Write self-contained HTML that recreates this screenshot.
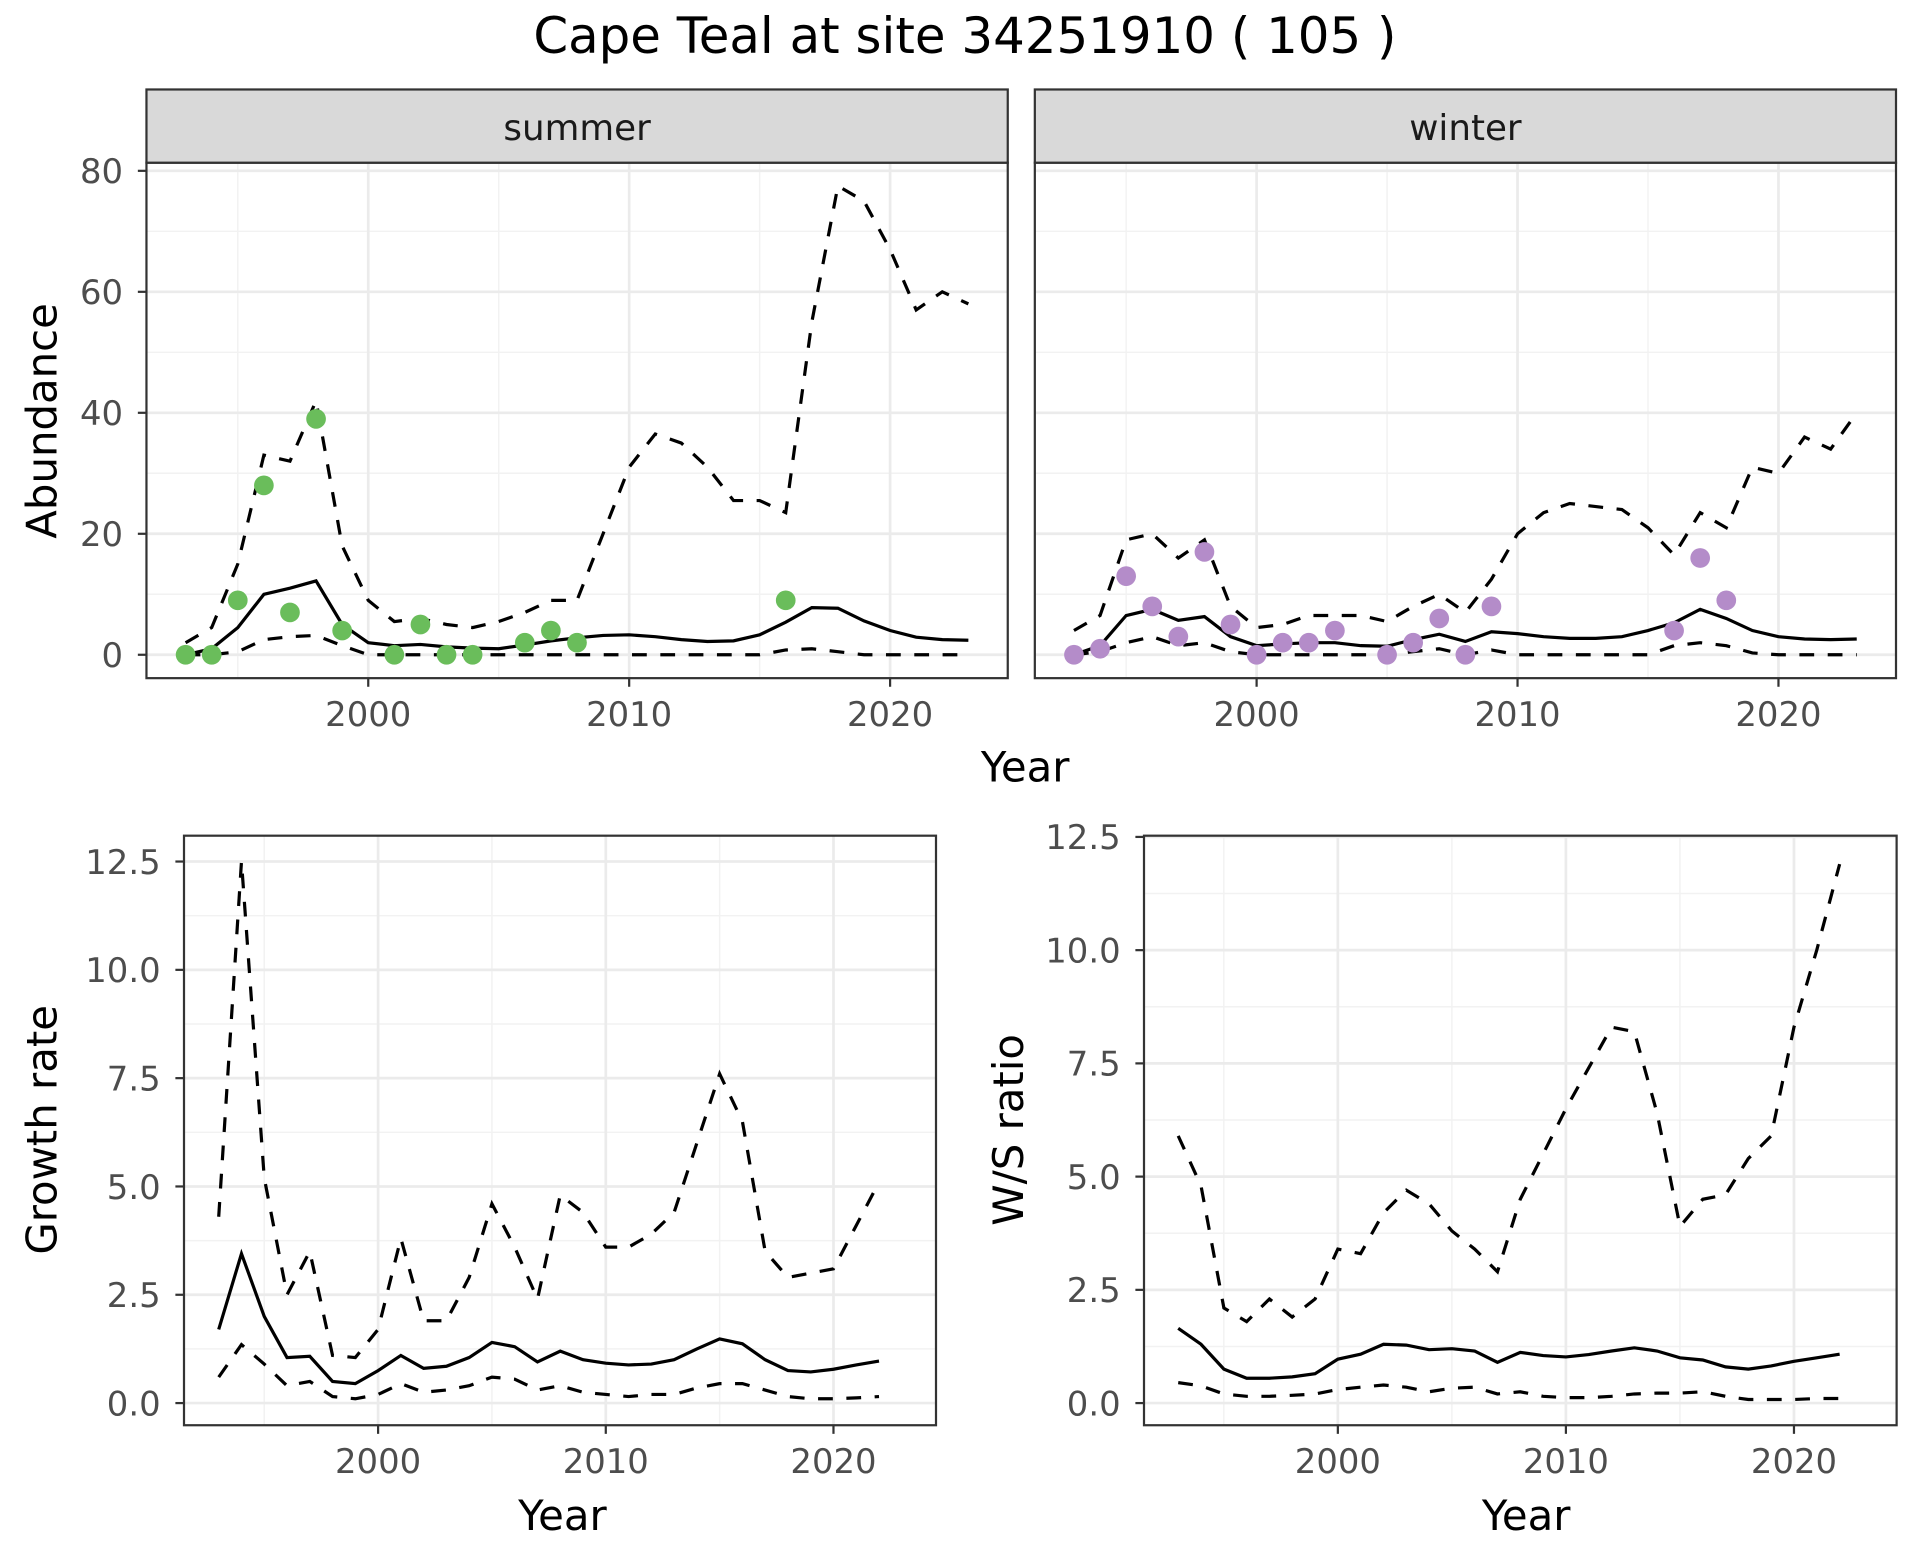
<!DOCTYPE html>
<html><head><meta charset="utf-8"><style>
html,body{margin:0;padding:0;background:#fff}
svg{display:block}
text{font-family:"DejaVu Sans","Liberation Sans",sans-serif}
</style></head><body>
<svg id="chart" width="1920" height="1560" viewBox="0 0 1560 1267.5" xmlns="http://www.w3.org/2000/svg">
<text x="784" y="43" font-size="40.5" text-anchor="middle" fill="#000">Cape Teal at site 34251910 ( 105 )</text>
</svg>
<script>
const yearsA = [];for(let y=1993;y<=2023;y++)yearsA.push(y);
const yearsB = [];for(let y=1993;y<=2022;y++)yearsB.push(y);
const summerMean=[0,1,4.5,10,11,12.2,5,2,1.5,1.7,1.3,1.1,1,1.6,2.3,2.8,3.2,3.3,3,2.5,2.2,2.3,3.3,5.4,7.8,7.7,5.6,4,2.9,2.5,2.4];
const summerUpper=[2,4.5,15,33,32,42,18,9,5.5,6,5,4.5,5.5,7,9,9,20,31,36.5,35,31,25.5,25.5,23.5,55,77.5,75,67,57,60,58];
const summerLower=[0,0,0.5,2.5,3,3.2,1.5,0,0,0,0,0,0,0,0,0,0,0,0,0,0,0,0,0.8,1,0.5,0,0,0,0,0];
const summerPtYears=[1993,1994,1995,1996,1997,1998,1999,2001,2002,2003,2004,2006,2007,2008,2016];
const summerPtVals=[0,0,9,28,7,39,4,0,5,0,0,2,4,2,9];
const winterMean=[0,1.5,6.5,7.5,5.7,6.3,3,1.5,1.8,2,2,1.5,1.4,2.5,3.4,2.2,3.8,3.5,3,2.7,2.7,3,4,5.3,7.5,6,4,3,2.6,2.5,2.6];
const winterUpper=[4,6.5,19,20,16,19,8,4.5,5,6.5,6.5,6.5,5.5,8,10,7,12.5,20,23.5,25,24.5,24,21,16.5,23.5,21,31,30,36,34,40];
const winterLower=[0,0.5,2,3,1.5,2,0.5,0,0,0,0,0,0,0.5,1,0,0.8,0,0,0,0,0,0,1.5,2,1.5,0.3,0,0,0,0];
const winterPtYears=[1993,1994,1995,1996,1997,1998,1999,2000,2001,2002,2003,2005,2006,2007,2008,2009,2016,2017,2018];
const winterPtVals=[0,1,13,8,3,17,5,0,2,2,4,0,2,6,0,8,4,16,9];
const growthMean=[1.7,3.45,2.0,1.05,1.08,0.5,0.45,0.75,1.1,0.8,0.85,1.05,1.4,1.3,0.95,1.2,1.0,0.92,0.88,0.9,1.0,1.25,1.48,1.37,1.0,0.75,0.72,0.78,0.88,0.97];
const growthUpper=[4.3,12.5,5.2,2.5,3.5,1.1,1.05,1.7,3.8,1.9,1.9,2.9,4.6,3.6,2.4,4.8,4.4,3.6,3.6,3.9,4.4,6.0,7.6,6.5,3.5,2.9,3.0,3.1,4.1,5.1];
const growthLower=[0.6,1.35,0.9,0.4,0.5,0.15,0.1,0.2,0.45,0.25,0.3,0.4,0.6,0.55,0.3,0.4,0.25,0.2,0.15,0.2,0.2,0.35,0.45,0.45,0.3,0.15,0.1,0.1,0.12,0.15];
const ratioMean=[1.65,1.3,0.75,0.55,0.55,0.58,0.65,0.97,1.08,1.3,1.28,1.18,1.2,1.15,0.9,1.12,1.05,1.02,1.07,1.15,1.22,1.15,1.0,0.95,0.8,0.75,0.82,0.92,1.0,1.08];
const ratioUpper=[5.9,4.8,2.1,1.8,2.3,1.9,2.3,3.4,3.3,4.2,4.7,4.4,3.8,3.4,2.9,4.5,5.5,6.5,7.4,8.3,8.2,6.4,3.9,4.5,4.6,5.4,5.9,8.3,10.0,11.9];
const ratioLower=[0.45,0.38,0.2,0.15,0.15,0.17,0.2,0.3,0.35,0.4,0.35,0.25,0.33,0.35,0.2,0.25,0.15,0.12,0.12,0.15,0.2,0.22,0.22,0.25,0.15,0.08,0.08,0.08,0.1,0.1];
const xTicks=[2000,2010,2020];
const xMinor=[1995,2005,2015];
const yTicksTop=[0,20,40,60,80];
const yMinorTop=[10,30,50,70];
const yTicksBot=[0,2.5,5,7.5,10,12.5];
const yMinorBot=[1.25,3.75,6.25,8.75,11.25];

const NS='http://www.w3.org/2000/svg';
const svg=document.getElementById('chart');
function mk(tag,attrs,parent){const e=document.createElementNS(NS,tag);for(const k in attrs)e.setAttribute(k,attrs[k]);(parent||svg).appendChild(e);return e;}

function panel(p){
  const g=mk('g',{});
  
  
  const sx=v=>p.x0+(v-2000)*p.kx;
  const sy=v=>p.y0-v*p.ky;
  mk('rect',{x:p.l,y:p.t,width:p.r-p.l,height:p.b-p.t,fill:'#fff'},g);
  p.yMinor.forEach(v=>mk('line',{x1:p.l,x2:p.r,y1:sy(v),y2:sy(v),stroke:'#f2f2f2','stroke-width':1.2},g));
  xMinor.forEach(v=>mk('line',{x1:sx(v),x2:sx(v),y1:p.t,y2:p.b,stroke:'#f2f2f2','stroke-width':1.2},g));
  p.yTicks.forEach(v=>mk('line',{x1:p.l,x2:p.r,y1:sy(v),y2:sy(v),stroke:'#ebebeb','stroke-width':2.2},g));
  xTicks.forEach(v=>mk('line',{x1:sx(v),x2:sx(v),y1:p.t,y2:p.b,stroke:'#ebebeb','stroke-width':2.2},g));
  const path=(xs,ys,dash)=>{
    const d=xs.map((x,i)=>(i?'L':'M')+sx(x).toFixed(1)+','+sy(ys[i]).toFixed(1)).join('');
    return mk('path',{d:d,fill:'none',stroke:'#000','stroke-width':2.6,'stroke-dasharray':dash||'none'},g);
  };
  const up=path(p.years,p.upper,'12,11');
  
  
  const lo=path(p.years,p.lower,'12,11');
  
  
  const mn=path(p.years,p.mean);
  
  
  if(p.ptYears){p.ptYears.forEach((yr,i)=>{
    const c=mk('circle',{cx:sx(yr),cy:sy(p.ptVals[i]),r:8,fill:p.color},g);
    
    
  });}
  mk('rect',{x:p.l,y:p.t,width:p.r-p.l,height:p.b-p.t,fill:'none',stroke:'#333','stroke-width':1.8},g);
  if(p.showY){p.yTicks.forEach(v=>{
    mk('line',{x1:p.l-7,x2:p.l,y1:sy(v),y2:sy(v),stroke:'#333','stroke-width':1.8},g);
    const t=mk('text',{x:p.l-19,y:sy(v)+10,'font-size':27.5,'text-anchor':'end',fill:'#4d4d4d'},g);
    t.textContent=p.fmt(v);
    
    
  });}
  xTicks.forEach(v=>{
    mk('line',{x1:sx(v),x2:sx(v),y1:p.b,y2:p.b+7,stroke:'#333','stroke-width':1.8},g);
    const t=mk('text',{x:sx(v),y:p.b+39,'font-size':27.5,'text-anchor':'middle',fill:'#4d4d4d'},g);
    t.textContent=v;
    
    
  });
  if(p.strip){
    mk('rect',{x:p.l,y:p.t-59.5,width:p.r-p.l,height:59.5,fill:'#d9d9d9',stroke:'#333','stroke-width':1.8},g);
    const t=mk('text',{x:(p.l+p.r)/2,y:p.t-18.5,'font-size':29,'text-anchor':'middle',fill:'#1a1a1a'},g);
    t.textContent=p.strip;
    
    
  }
}
const fTop=v=>String(v), fBot=v=>v.toFixed(1);
panel({name:'summer-panel',l:119,r:818.8,t:132.2,b:551,x0:299.2,kx:21.2,y0:532,ky:4.915,years:yearsA,mean:summerMean,upper:summerUpper,lower:summerLower,ptYears:summerPtYears,ptVals:summerPtVals,color:'#6abd5b',yTicks:yTicksTop,yMinor:yMinorTop,showY:true,fmt:fTop,strip:'summer'});
panel({name:'winter-panel',l:840.8,r:1540.5,t:132.2,b:551,x0:1021,kx:21.2,y0:532,ky:4.915,years:yearsA,mean:winterMean,upper:winterUpper,lower:winterLower,ptYears:winterPtYears,ptVals:winterPtVals,color:'#b48cc9',yTicks:yTicksTop,yMinor:yMinorTop,showY:false,fmt:fTop,strip:'winter'});
panel({name:'growth-rate-panel',l:149.5,r:760.5,t:679,b:1158,x0:307.2,kx:18.5,y0:1140,ky:35.2,years:yearsB,mean:growthMean,upper:growthUpper,lower:growthLower,yTicks:yTicksBot,yMinor:yMinorBot,showY:true,fmt:fBot});
panel({name:'ws-ratio-panel',l:929.5,r:1541,t:679,b:1158,x0:1087,kx:18.53,y0:1140,ky:36.8,years:yearsB,mean:ratioMean,upper:ratioUpper,lower:ratioLower,yTicks:yTicksBot,yMinor:yMinorBot,showY:true,fmt:fBot});

function label(txt,x,y,rot,name){
  const t=mk('text',{x:x,y:y,'font-size':34,'text-anchor':'middle',fill:'#000',transform:rot?`rotate(-90 ${x} ${y})`:''});
  t.textContent=txt;
  
  
}
label('Abundance',46,342,true,'y-axis-title-abundance');
label('Year',833,635,false,'x-axis-title-top');
label('Growth rate',46,918,true,'y-axis-title-growth');
label('Year',457,1243,false,'x-axis-title-growth');
label('W/S ratio',831,918,true,'y-axis-title-ratio');
label('Year',1240,1243,false,'x-axis-title-ratio');
</script>
</body></html>
